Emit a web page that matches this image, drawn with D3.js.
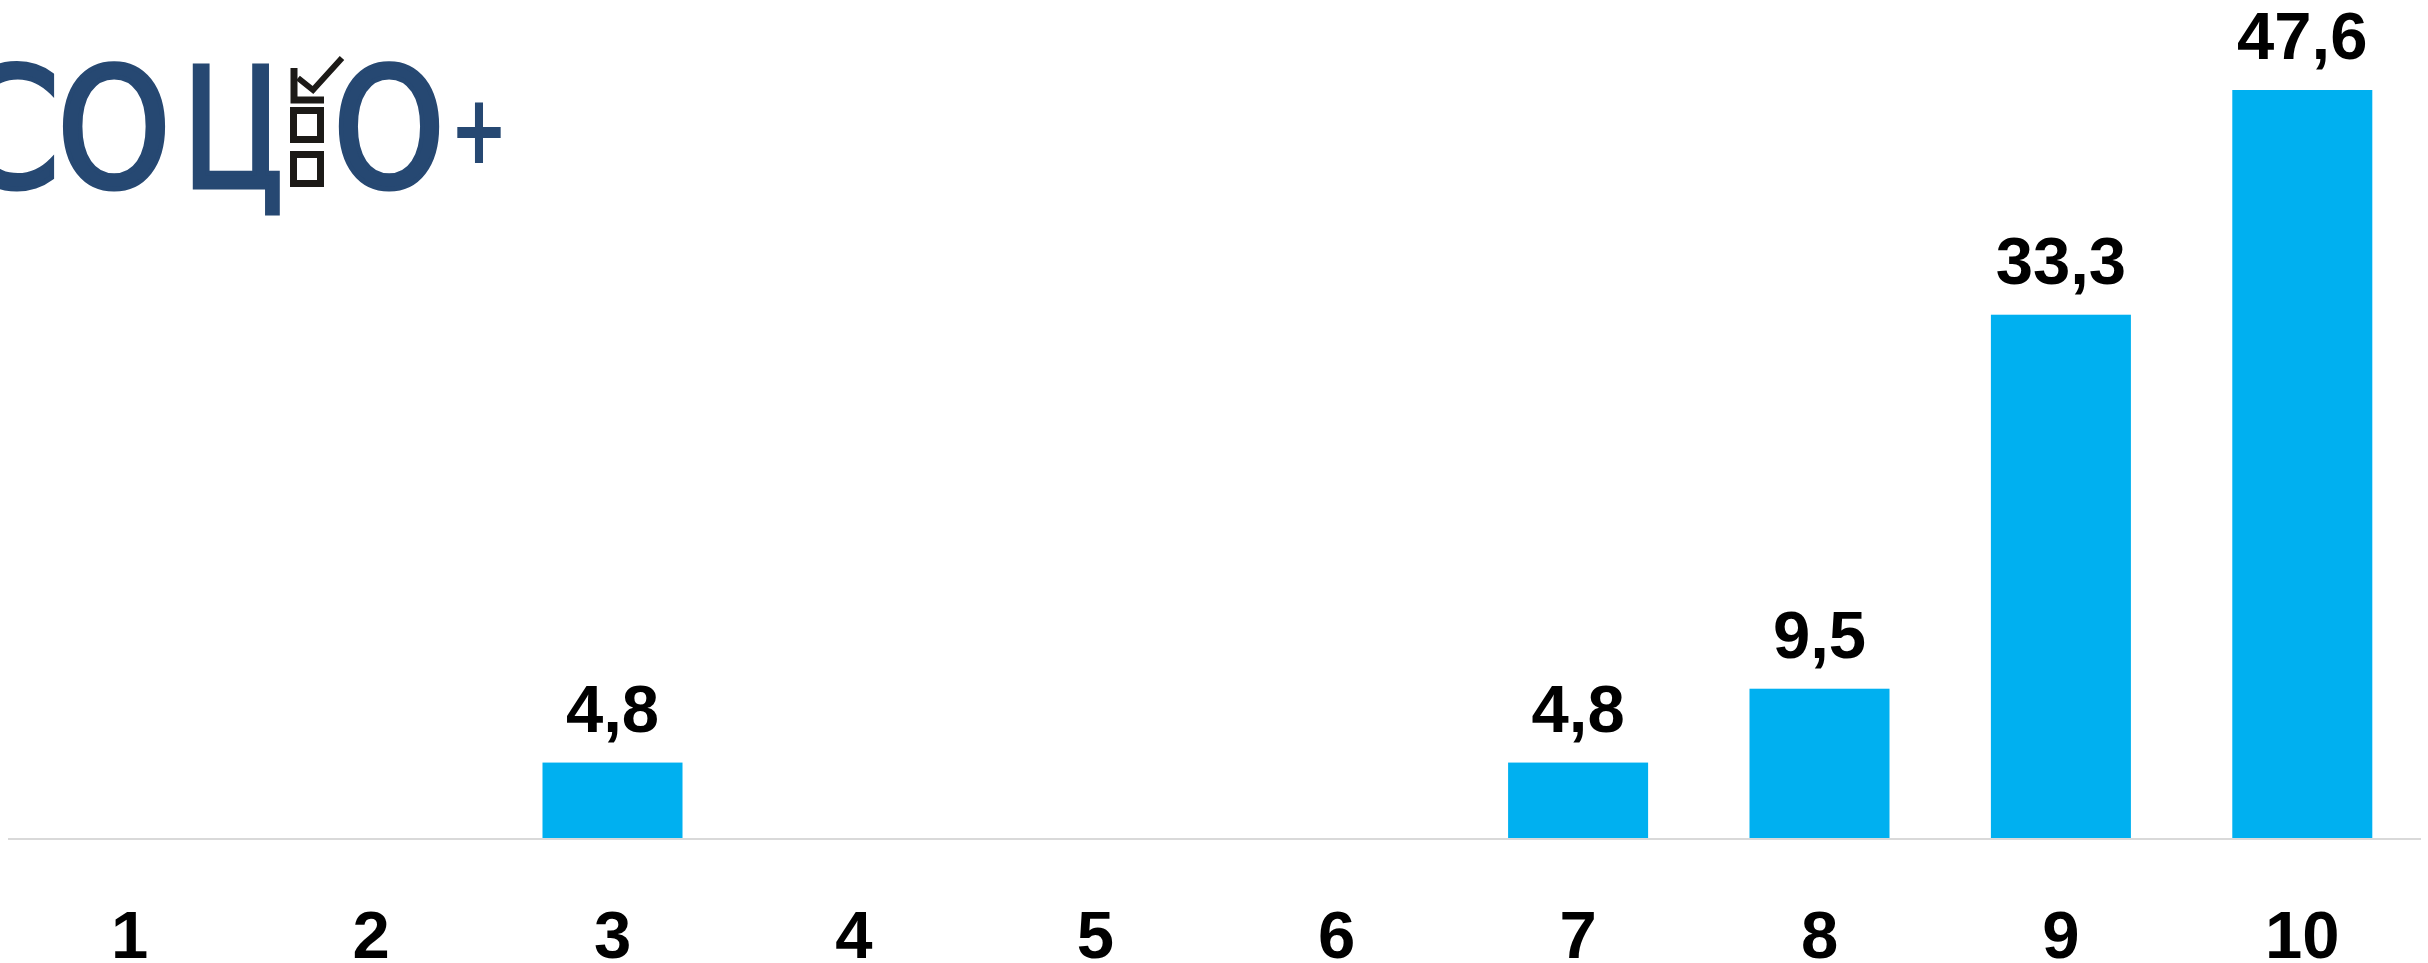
<!DOCTYPE html>
<html>
<head>
<meta charset="utf-8">
<script src="https://cdn.jsdelivr.net/npm/d3@7"></script>
<style>
  html, body { margin: 0; padding: 0; background: #fff; }
  svg { display: block; }
</style>
</head>
<body>
<div id="chart"></div>
<script>
// ── Data ─────────────────────────────────────────────────────
const categories = ["1", "2", "3", "4", "5", "6", "7", "8", "9", "10"];
const values     = [0, 0, 4.8, 0, 0, 0, 4.8, 9.5, 33.3, 47.6];
const valueLabels = ["", "", "4,8", "", "", "", "4,8", "9,5", "33,3", "47,6"];

const W = 2428, H = 963;
const BAR_COLOR = "#00B0F0";
const LOGO_BLUE = "#264872";
const FONT = "'Liberation Sans', Arial, sans-serif";

const svg = d3.select("#chart").append("svg").attr("width", W).attr("height", H);

// ── Scales ───────────────────────────────────────────────────
const baseY = 838;
const x = d3.scaleBand().domain(categories).range([9, 2423]).paddingInner(0.42).paddingOuter(0.21);
const y = d3.scaleLinear().domain([0, 47.6]).range([baseY, 90]);

const data = categories.map((c, i) => ({ c, v: values[i], lbl: valueLabels[i] }));

// Bars
svg.append("g").selectAll("rect")
  .data(data)
  .join("rect")
  .attr("x", d => x(d.c))
  .attr("y", d => y(d.v))
  .attr("width", x.bandwidth())
  .attr("height", d => y(0) - y(d.v))
  .attr("fill", BAR_COLOR);

// Baseline
svg.append("line")
  .attr("x1", 8).attr("x2", 2421)
  .attr("y1", baseY + 1).attr("y2", baseY + 1)
  .attr("stroke", "#D9D9D9").attr("stroke-width", 2);

// Value labels
svg.append("g").selectAll("text")
  .data(data.filter(d => d.lbl))
  .join("text")
  .attr("x", d => x(d.c) + x.bandwidth() / 2)
  .attr("y", d => y(d.v) - 31)
  .attr("text-anchor", "middle")
  .attr("font-family", FONT).attr("font-weight", "bold").attr("font-size", 67)
  .attr("fill", "#000")
  .text(d => d.lbl);

// Category axis
const xAxis = svg.append("g")
  .attr("transform", `translate(0,${baseY})`)
  .call(d3.axisBottom(x).tickSize(0).tickPadding(0));
xAxis.select(".domain").remove();
xAxis.selectAll("text")
  .attr("dy", null)
  .attr("y", 120)
  .attr("font-family", FONT).attr("font-weight", "bold").attr("font-size", 67)
  .attr("fill", "#000");

// ── Logo ─────────────────────────────────────────────────────
const logo = svg.append("g");
const logoLetters = [
  { t: "С", x0: -45, x1: 60 },
  { t: "О", x0: 57,  x1: 171 },
  { t: "Ц", x0: 182, x1: 283 },
  { t: "О", x0: 333, x1: 445 }
];
logo.selectAll("text")
  .data(logoLetters)
  .join("text")
  .attr("x", d => d.x0)
  .attr("y", 187)
  .attr("textLength", d => d.x1 - d.x0)
  .attr("lengthAdjust", "spacingAndGlyphs")
  .attr("font-family", "'DejaVu Sans', sans-serif")
  .attr("font-size", 165)
  .attr("fill", LOGO_BLUE)
  .attr("stroke", LOGO_BLUE).attr("stroke-width", 5)
  .text(d => d.t);

logo.append("text")
  .attr("x", 450).attr("y", 163)
  .attr("textLength", 58).attr("lengthAdjust", "spacingAndGlyphs")
  .attr("font-family", "'DejaVu Sans', sans-serif").attr("font-weight", "bold")
  .attr("font-size", 96)
  .attr("fill", LOGO_BLUE)
  .text("+");

// checkbox icon
const ic = logo.append("g").attr("fill", "none").attr("stroke", "#1c1a17");
ic.append("path").attr("d", "M294,68 V100 H324").attr("stroke-width", 7);
ic.append("path").attr("d", "M298,78 L313,90 L342,58").attr("stroke-width", 6);
ic.append("rect").attr("x", 293.5).attr("y", 110.5).attr("width", 27).attr("height", 29).attr("stroke-width", 7);
ic.append("rect").attr("x", 293.5).attr("y", 154.5).attr("width", 27).attr("height", 29).attr("stroke-width", 7);
</script>
</body>
</html>
